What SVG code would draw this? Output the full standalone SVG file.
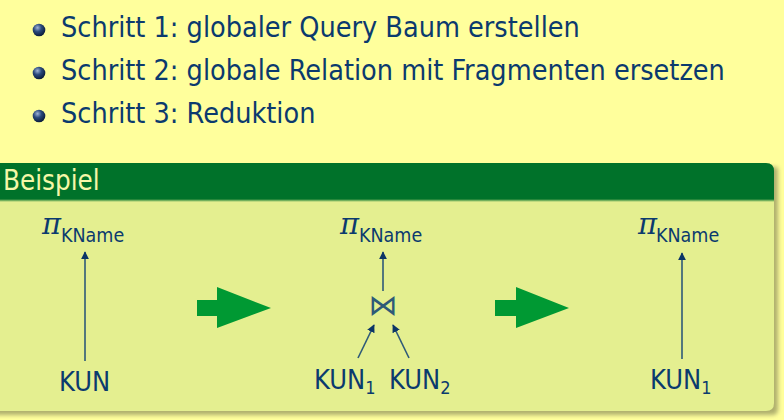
<svg xmlns="http://www.w3.org/2000/svg" width="784" height="420" viewBox="0 0 784 420">
<defs>
<radialGradient id="ball" cx="0.38" cy="0.32" r="0.7">
<stop offset="0" stop-color="#9fb3d6"/>
<stop offset="0.45" stop-color="#2b4a7c"/>
<stop offset="1" stop-color="#0a1a38"/>
</radialGradient>
<linearGradient id="hdrfade" x1="0" y1="0" x2="0" y2="1">
<stop offset="0" stop-color="#00722a"/>
<stop offset="1" stop-color="#e4ef90"/>
</linearGradient>
<filter id="shadow" x="-5%" y="-5%" width="115%" height="120%">
<feGaussianBlur stdDeviation="2"/>
</filter>
<marker id="ah" viewBox="0 0 10 10" refX="9" refY="5" markerWidth="8" markerHeight="8" markerUnits="userSpaceOnUse" orient="auto">
<path d="M0,0 L10,5 L0,10 z" fill="#0b3566"/>
</marker>
<style>
.t{font-family:"DejaVu Sans Condensed","DejaVu Sans",sans-serif;fill:#0b3a6e}
.big{font-size:28.5px}
.kun{font-size:27px}
.sub{font-size:18px}
.pi{font-family:"DejaVu Serif","Liberation Serif",serif;font-style:italic;font-size:29px;fill:#0b3a6e}
.kn{font-family:"DejaVu Sans Condensed","DejaVu Sans",sans-serif;font-size:19.5px;fill:#0b3a6e}
.edge{stroke:#2e5a78;stroke-width:1.6;fill:none;marker-end:url(#ah)}
.garrow{fill:#009933}
</style>
</defs>
<rect x="0" y="0" width="784" height="420" fill="#ffff9c"/>

<g id="bullets">
<circle cx="39" cy="30" r="6.3" fill="url(#ball)"/>
<text class="t big" x="61" y="37">Schritt 1: globaler Query Baum erstellen</text>
<circle cx="39" cy="73" r="6.3" fill="url(#ball)"/>
<text class="t big" x="61" y="80">Schritt 2: globale Relation mit Fragmenten ersetzen</text>
<circle cx="39" cy="116" r="6.3" fill="url(#ball)"/>
<text class="t big" x="61" y="123">Schritt 3: Reduktion</text>
</g>

<g id="block">
<path d="M-10,167 L-10,415 L772,415 Q778,415 778,409 L778,169 Q778,167 776,167 Z" fill="#7a7a50" opacity="0.6" filter="url(#shadow)"/>
<path d="M-10,163 L766,163 Q774,163 774,171 L774,403 Q774,411 766,411 L-10,411 Z" fill="#e4ef90"/>
<path d="M-10,163 L766,163 Q774,163 774,171 L774,199 L-10,199 Z" fill="#00722a"/>
<rect x="-10" y="199" width="784" height="3" fill="url(#hdrfade)"/>
<text x="3" y="190" style="font-family:'DejaVu Sans Condensed','DejaVu Sans',sans-serif;font-size:27.5px;fill:#f5f7a8">Beispiel</text>
</g>

<g id="tree1">
<g id="pi1"><text class="pi" x="42" y="234">π</text><text class="kn" x="61" y="242">KName</text></g>
<g id="kun"><text class="t kun" x="59" y="391">KUN</text></g>
</g>

<g id="tree2">
<g id="pi2"><text class="pi" x="340" y="234">π</text><text class="kn" x="359" y="242">KName</text></g>
<g id="join"><text x="383" y="315" text-anchor="middle" style="font-family:'DejaVu Sans',sans-serif;font-size:29px;fill:#2e5a78">⋈</text></g>
<g id="kun1"><text class="t kun" x="314" y="389">KUN<tspan class="sub" dy="5">1</tspan></text></g>
<g id="kun2"><text class="t kun" x="389" y="389">KUN<tspan class="sub" dy="5">2</tspan></text></g>
</g>

<g id="tree3">
<g id="pi3"><text class="pi" x="638" y="234">π</text><text class="kn" x="656" y="242">KName</text></g>
<g id="kun1b"><text class="t kun" x="650" y="389">KUN<tspan class="sub" dy="5">1</tspan></text></g>
</g>

<g id="connectors">
<line class="edge" x1="85" y1="361" x2="85" y2="252"/>
<line class="edge" x1="383" y1="291" x2="383" y2="252"/>
<line class="edge" x1="358" y1="358" x2="374" y2="325"/>
<line class="edge" x1="409" y1="358" x2="393" y2="325"/>
<line class="edge" x1="682" y1="359" x2="682" y2="253"/>
</g>

<g id="steps">
<path class="garrow" d="M197,300 L217,300 L217,287 L271,308 L217,328 L217,316 L197,316 Z"/>
<path class="garrow" d="M495,300 L516,300 L516,287 L569,308 L516,328 L516,316 L495,316 Z"/>
</g>
</svg>
